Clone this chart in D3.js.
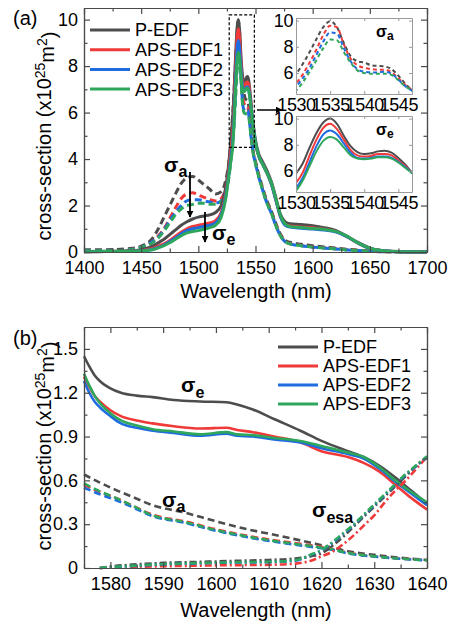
<!DOCTYPE html>
<html lang="en">
<head>
  <meta charset="utf-8">
  <title>Cross-section spectra</title>
  <script src="https://d3js.org/d3.v7.min.js"></script>
  <style>
    body { margin: 0; background: #fff; }
    text { font-family: "Liberation Sans", Arial, sans-serif; fill: #000; }
    .tick text { font-size: 18px; }
    .axis path, .axis line { stroke: #4a4a4a; stroke-width: 1.2; }
  </style>
</head>
<body>
<script>
// ---------- data ----------
var names = ["P-EDF", "APS-EDF1", "APS-EDF2", "APS-EDF3"];
var colors = ["#4d4d4d", "#f03a3a", "#1f6be0", "#2ea65c"];

// panel (a): 1400-1700 nm
var wlA = [1400,1420,1440,1450,1460,1465,1470,1475,1480,1485,1490,1495,1500,1505,1510,1515,1520,1524,1527,1529,
  1530,1531,1532,1533,1534,1535,1536,1537,1538,1539,1540,1541,1542,1543,1544,1545,1546,1547,1548,
  1550,1553,1556,1560,1564,1568,1572,1576,1580,1590,1600,1610,1620,1630,1640,1650,1660,1670,1680,1700];

var absP = [0.1,0.1,0.15,0.25,0.6, 1.0,1.5,2.0,2.5,2.95, 3.2,3.25,3.1,2.9,2.7, 2.5,2.6,3.1,4.0,5.2,
  5.9,6.7,7.6,8.6,9.5,9.95,9.5,8.3,7.3,6.9,6.8,6.6,6.55,6.5,6.3,5.8,5.2,4.7,4.3,
  3.9,3.3,2.8,2.2,1.75, 1.2,0.75,0.5,0.42,0.33, 0.27,0.22,0.17,0.12,0.08, 0.04,0.02,0.01,0,0];
var absR = [0.05,0.05,0.1,0.2,0.45, 0.7,1.0,1.45,1.9,2.3, 2.5,2.55,2.45,2.35,2.25, 2.2,2.3,2.8,3.6,4.6,
  5.2,5.9,6.8,7.8,8.9,9.6,9.5,8.2,7.1,6.6,6.4,6.3,6.25,6.25,6.05,5.6,5.1,4.7,4.3,
  3.85,3.25,2.75,2.15,1.7, 1.15,0.7,0.45,0.36,0.28, 0.22,0.18,0.14,0.1,0.06, 0.03,0.015,0.01,0,0];
var absB = [0.05,0.05,0.1,0.2,0.45, 0.65,0.95,1.35,1.7,2.0, 2.2,2.25,2.25,2.2,2.15, 2.1,2.2,2.7,3.4,4.4,
  4.95,5.6,6.4,7.4,8.4,9.1,9.0,7.9,6.9,6.3,6.1,6.05,6.05,6.1,5.95,5.5,5.0,4.65,4.25,
  3.8,3.2,2.7,2.1,1.65, 1.1,0.68,0.44,0.35,0.27, 0.21,0.17,0.13,0.09,0.06, 0.03,0.015,0.01,0,0];
var absG = [0.05,0.05,0.1,0.2,0.4, 0.6,0.9,1.25,1.6,1.85, 2.0,2.05,2.1,2.1,2.05, 2.05,2.15,2.6,3.3,4.2,
  4.65,5.3,6.1,7.0,7.9,8.55,8.5,7.6,6.8,6.2,6.0,5.95,5.95,5.95,5.85,5.45,5.0,4.65,4.25,
  3.8,3.2,2.7,2.1,1.65, 1.1,0.68,0.44,0.35,0.27, 0.21,0.17,0.13,0.09,0.06, 0.03,0.015,0.01,0,0];

var emP = [0.02,0.03,0.05,0.1,0.25, 0.4,0.55,0.75,0.95,1.15, 1.3,1.42,1.5,1.55,1.6, 1.7,2.0,2.8,4.0,5.1,
  5.8,6.6,7.8,8.9,9.7,10.0,9.6,8.7,7.9,7.45,7.3,7.35,7.5,7.55,7.4,7.0,6.5,5.9,5.5,
  4.8,4.2,3.9,3.5,3.0, 2.3,1.6,1.3,1.22,1.18, 1.13,1.05,0.93,0.68,0.4, 0.17,0.07,0.03,0.01,0];
var emR = [0.01,0.02,0.03,0.06,0.15, 0.25,0.35,0.5,0.68,0.85, 1.0,1.1,1.15,1.2,1.25, 1.35,1.7,2.5,3.7,4.6,
  5.1,5.9,7.2,8.4,9.3,9.6,9.2,8.4,7.6,7.2,7.1,7.15,7.3,7.3,7.2,6.8,6.4,5.85,5.4,
  4.7,4.1,3.8,3.4,2.9, 2.2,1.5,1.2,1.12,1.08, 1.04,0.98,0.89,0.66,0.37, 0.15,0.06,0.02,0.01,0];
var emB = [0.01,0.02,0.03,0.05,0.12, 0.2,0.3,0.45,0.6,0.78, 0.92,1.0,1.05,1.1,1.15, 1.25,1.6,2.4,3.5,4.3,
  4.7,5.5,6.7,7.9,8.8,9.1,8.8,8.1,7.4,7.0,6.95,7.0,7.1,7.1,7.0,6.7,6.3,5.85,5.4,
  4.7,4.1,3.8,3.4,2.9, 2.2,1.5,1.15,1.07,1.02, 0.99,0.95,0.87,0.66,0.37, 0.15,0.06,0.02,0.01,0];
var emG = [0.01,0.02,0.03,0.05,0.1, 0.18,0.27,0.4,0.55,0.7, 0.82,0.88,0.92,0.98,1.05, 1.15,1.5,2.3,3.4,4.1,
  4.5,5.3,6.4,7.5,8.3,8.6,8.4,7.8,7.2,6.95,6.9,6.95,7.05,7.05,6.95,6.65,6.25,5.85,5.4,
  4.7,4.1,3.8,3.4,2.95, 2.25,1.55,1.2,1.1,1.05, 1.01,0.97,0.89,0.68,0.38, 0.16,0.06,0.02,0.01,0];

// panel (b): 1575-1640 nm
var wlE = [1575,1576,1577,1578,1580,1582,1585,1588,1592,1597,1602,1604,1607,1611,1616,1620,1625,1628,1631,1634,1637,1640];
var seP = [1.45,1.38,1.32,1.28,1.23,1.2,1.18,1.17,1.15,1.14,1.135,1.12,1.085,1.02,0.94,0.87,0.8,0.76,0.7,0.62,0.53,0.44];
var seR = [1.31,1.24,1.18,1.14,1.08,1.04,1.01,0.99,0.97,0.955,0.96,0.945,0.93,0.9,0.86,0.8,0.76,0.72,0.66,0.57,0.48,0.4];
var seB = [1.28,1.2,1.14,1.1,1.04,0.99,0.96,0.94,0.925,0.905,0.92,0.905,0.9,0.88,0.86,0.82,0.78,0.75,0.68,0.59,0.51,0.43];
var seG = [1.33,1.25,1.18,1.13,1.06,1.01,0.975,0.95,0.935,0.915,0.93,0.915,0.91,0.89,0.87,0.835,0.79,0.76,0.69,0.6,0.52,0.45];

var wlAbs = [1575,1578,1581,1584,1588,1594,1600,1606,1612,1619,1622,1625,1630,1635,1640];
var saP = [0.64,0.585,0.535,0.49,0.43,0.38,0.32,0.265,0.22,0.165,0.14,0.115,0.09,0.07,0.055];
var saR = [0.57,0.52,0.48,0.43,0.365,0.32,0.265,0.22,0.185,0.15,0.13,0.105,0.08,0.065,0.055];
var saB = [0.55,0.505,0.465,0.42,0.355,0.31,0.255,0.21,0.175,0.14,0.125,0.1,0.078,0.063,0.052];
var saG = [0.58,0.525,0.48,0.43,0.36,0.315,0.26,0.215,0.18,0.145,0.128,0.103,0.08,0.064,0.053];

var wlEsa = [1578,1580,1585,1590,1595,1600,1605,1610,1615,1618,1620,1622,1624,1626,1628,1630,1632,1634,1636,1638,1640];
var esaP = [0,0.01,0.025,0.035,0.04,0.045,0.05,0.055,0.065,0.08,0.1,0.15,0.21,0.28,0.35,0.42,0.49,0.56,0.63,0.7,0.76];
var esaR = [0,0.003,0.008,0.012,0.015,0.018,0.02,0.022,0.03,0.05,0.08,0.11,0.16,0.22,0.29,0.36,0.45,0.53,0.6,0.68,0.76];
var esaB = [0,0.005,0.015,0.025,0.03,0.035,0.038,0.04,0.05,0.09,0.12,0.17,0.23,0.29,0.36,0.43,0.5,0.57,0.64,0.7,0.76];
var esaG = [0,0.006,0.017,0.027,0.032,0.037,0.04,0.042,0.053,0.092,0.123,0.175,0.235,0.295,0.365,0.435,0.505,0.575,0.645,0.705,0.765];

// ticks
var xTicksA = [1400,1450,1500,1550,1600,1650,1700];
var xMinorA = [1425,1475,1525,1575,1625,1675];
var yTicksA = [0,2,4,6,8,10];
var yMinorA = [1,3,5,7,9];
var xTicksIn = [1530,1535,1540,1545];
var yTicksIn = [6,8,10];
var xTicksB = [1580,1590,1600,1610,1620,1630,1640];
var xMinorB = [1575,1585,1595,1605,1615,1625,1635];
var yTicksB = [0,0.3,0.6,0.9,1.2,1.5];
var yMinorB = [0.15,0.45,0.75,1.05,1.35];

// ---------- canvas ----------
var width = 455, height = 627;
var svg = d3.select("body").append("svg").attr("width", width).attr("height", height);

svg.append("defs").append("marker")
  .attr("id", "arrow").attr("viewBox", "0 0 10 10").attr("refX", 9).attr("refY", 5)
  .attr("markerWidth", 7).attr("markerHeight", 7).attr("markerUnits", "userSpaceOnUse")
  .attr("orient", "auto")
  .append("path").attr("d", "M0,0 L10,5 L0,10 z").attr("fill", "#000");

function series(wl, vals) { return wl.map(function(w, i) { return [w, vals[i]]; }); }

function frame(g, x, y, xt, xm, yt, ym, fmt) {
  var x0 = x.range()[0], x1 = x.range()[1], y0 = y.range()[0], y1 = y.range()[1];
  g.append("g").attr("class", "axis").attr("transform", "translate(0," + y0 + ")")
    .call(d3.axisBottom(x).tickValues(xt).tickSizeInner(-6).tickSizeOuter(0).tickPadding(9).tickFormat(d3.format("d")));
  g.append("g").attr("class", "axis").attr("transform", "translate(0," + y0 + ")")
    .call(d3.axisBottom(x).tickValues(xm).tickSizeInner(-3.5).tickSizeOuter(0).tickFormat(""));
  g.append("g").attr("class", "axis").attr("transform", "translate(0," + y1 + ")")
    .call(d3.axisTop(x).tickValues(xt).tickSizeInner(-6).tickSizeOuter(0).tickFormat(""));
  g.append("g").attr("class", "axis").attr("transform", "translate(0," + y1 + ")")
    .call(d3.axisTop(x).tickValues(xm).tickSizeInner(-3.5).tickSizeOuter(0).tickFormat(""));
  g.append("g").attr("class", "axis").attr("transform", "translate(" + x0 + ",0)")
    .call(d3.axisLeft(y).tickValues(yt).tickSizeInner(-6).tickSizeOuter(0).tickPadding(6).tickFormat(fmt));
  g.append("g").attr("class", "axis").attr("transform", "translate(" + x0 + ",0)")
    .call(d3.axisLeft(y).tickValues(ym).tickSizeInner(-3.5).tickSizeOuter(0).tickFormat(""));
  g.append("g").attr("class", "axis").attr("transform", "translate(" + x1 + ",0)")
    .call(d3.axisRight(y).tickValues(yt).tickSizeInner(-6).tickSizeOuter(0).tickFormat(""));
  g.append("g").attr("class", "axis").attr("transform", "translate(" + x1 + ",0)")
    .call(d3.axisRight(y).tickValues(ym).tickSizeInner(-3.5).tickSizeOuter(0).tickFormat(""));
}

function yTitle(cx, cy) {
  var t = svg.append("text").attr("transform", "translate(" + cx + "," + cy + ") rotate(-90)")
    .attr("text-anchor", "middle").attr("font-size", 20);
  t.append("tspan").text("cross-section (x10");
  t.append("tspan").attr("dy", "-0.45em").attr("font-size", 14).text("25");
  t.append("tspan").attr("dy", "0.45em").text("m");
  t.append("tspan").attr("dy", "-0.45em").attr("font-size", 14).text("2");
  t.append("tspan").attr("dy", "0.45em").text(")");
}

function sigma(x, y, sub, size, subSize, dy) {
  var t = svg.append("text").attr("x", x).attr("y", y).attr("font-size", size).attr("font-weight", "bold");
  t.append("tspan").text("σ");
  t.append("tspan").attr("dy", dy).attr("font-size", subSize).text(sub);
}

function legend(x, y0, step) {
  names.forEach(function(n, i) {
    var yy = y0 + i * step;
    svg.append("line").attr("x1", x).attr("x2", x + 40).attr("y1", yy).attr("y2", yy)
      .attr("stroke", colors[i]).attr("stroke-width", 3);
    svg.append("text").attr("x", x + 45).attr("y", yy).attr("dy", "0.36em")
      .attr("font-size", 18).text(n);
  });
}

// ---------- panel (a) ----------
var xA = d3.scaleLinear().domain([1400, 1700]).range([84, 427]);
var yA = d3.scaleLinear().domain([0, 10.5]).range([252, 8]);
var lineA = d3.line().x(function(d) { return xA(d[0]); }).y(function(d) { return yA(d[1]); }).curve(d3.curveMonotoneX);

var absA = [absP, absR, absB, absG];
var emA = [emP, emR, emB, emG];

var gA = svg.append("g");
absA.forEach(function(v, i) {
  gA.append("path").attr("d", lineA(series(wlA, v))).attr("fill", "none")
    .attr("stroke", colors[i]).attr("stroke-width", 3).attr("stroke-dasharray", "7,4");
});
emA.forEach(function(v, i) {
  gA.append("path").attr("d", lineA(series(wlA, v))).attr("fill", "none")
    .attr("stroke", colors[i]).attr("stroke-width", 3);
});
frame(svg.append("g"), xA, yA, xTicksA, xMinorA, yTicksA, yMinorA, d3.format("d"));

// zoom box and arrow
svg.append("rect").attr("x", xA(1527)).attr("y", yA(10.2)).attr("width", xA(1549) - xA(1527))
  .attr("height", yA(4.5) - yA(10.2)).attr("fill", "none").attr("stroke", "#000")
  .attr("stroke-width", 1.2).attr("stroke-dasharray", "3,2");
svg.append("line").attr("x1", 257).attr("y1", 110).attr("x2", 282).attr("y2", 110)
  .attr("stroke", "#000").attr("stroke-width", 1.5).attr("marker-end", "url(#arrow)");

// insets
function inset(top, data, dashed, label) {
  var xi = d3.scaleLinear().domain([1530, 1547]).range([296, 412]);
  var yi = d3.scaleLinear().domain([4.4, 10.2]).range([top + 76, top]);
  var li = d3.line().x(function(d) { return xi(d[0]); }).y(function(d) { return yi(d[1]); }).curve(d3.curveMonotoneX);
  var id = "clip" + top;
  svg.append("clipPath").attr("id", id).append("rect").attr("x", 296).attr("y", top).attr("width", 116).attr("height", 76);
  svg.append("rect").attr("x", 296).attr("y", top).attr("width", 116).attr("height", 76).attr("fill", "#fff");
  var g = svg.append("g").attr("clip-path", "url(#" + id + ")");
  data.forEach(function(v, i) {
    g.append("path").attr("d", li(series(wlA, v))).attr("fill", "none").attr("stroke", colors[i])
      .attr("stroke-width", 2).attr("stroke-dasharray", dashed ? "4,3" : null);
  });
  var ax = svg.append("g").attr("class", "inset");
  ax.append("g").attr("transform", "translate(0," + (top + 76) + ")")
    .call(d3.axisBottom(xi).tickValues(xTicksIn).tickSizeInner(-3).tickSizeOuter(0).tickPadding(4).tickFormat(d3.format("d")));
  ax.append("g").attr("transform", "translate(0," + top + ")")
    .call(d3.axisTop(xi).tickValues(xTicksIn).tickSizeInner(-3).tickSizeOuter(0).tickFormat(""));
  ax.append("g").attr("transform", "translate(296,0)")
    .call(d3.axisLeft(yi).tickValues(yTicksIn).tickSizeInner(-3).tickSizeOuter(0).tickPadding(3).tickFormat(d3.format("d")));
  ax.append("g").attr("transform", "translate(412,0)")
    .call(d3.axisRight(yi).tickValues(yTicksIn).tickSizeInner(-3).tickSizeOuter(0).tickFormat(""));
  ax.selectAll("path, line").attr("stroke", "#9a9a9a");
  ax.selectAll("text").attr("font-size", 13).attr("letter-spacing", "-0.4");
  sigma(376, top + 19, label, 16, 12, 3);
}
inset(18, absA, true, "a");
inset(116, emA, false, "e");

legend(90, 30, 19.7);
sigma(164, 172, "a", 21, 16, 5);
sigma(212, 240, "e", 21, 16, 5);
svg.append("line").attr("x1", 190).attr("y1", 172).attr("x2", 190).attr("y2", 217)
  .attr("stroke", "#000").attr("stroke-width", 1.8).attr("marker-end", "url(#arrow)");
svg.append("line").attr("x1", 205).attr("y1", 212).attr("x2", 205).attr("y2", 242)
  .attr("stroke", "#000").attr("stroke-width", 1.8).attr("marker-end", "url(#arrow)");

svg.append("text").attr("x", 13).attr("y", 25).attr("font-size", 20).text("(a)");
svg.append("text").attr("x", 256).attr("y", 298).attr("text-anchor", "middle").attr("font-size", 20).text("Wavelength (nm)");
yTitle(51, 136);

// ---------- panel (b) ----------
var xB = d3.scaleLinear().domain([1575, 1640]).range([84, 427]);
var yB = d3.scaleLinear().domain([0, 1.65]).range([568, 327]);
var lineB = d3.line().x(function(d) { return xB(d[0]); }).y(function(d) { return yB(d[1]); }).curve(d3.curveMonotoneX);

var gB = svg.append("g");
[seP, seR, seB, seG].forEach(function(v, i) {
  gB.append("path").attr("d", lineB(series(wlE, v))).attr("fill", "none")
    .attr("stroke", colors[i]).attr("stroke-width", 2.6);
});
[saP, saR, saB, saG].forEach(function(v, i) {
  gB.append("path").attr("d", lineB(series(wlAbs, v))).attr("fill", "none")
    .attr("stroke", colors[i]).attr("stroke-width", 2.6).attr("stroke-dasharray", "7,4");
});
[esaP, esaR, esaB, esaG].forEach(function(v, i) {
  gB.append("path").attr("d", lineB(series(wlEsa, v))).attr("fill", "none")
    .attr("stroke", colors[i]).attr("stroke-width", 2.6).attr("stroke-dasharray", "7,3,2,3");
});
frame(svg.append("g"), xB, yB, xTicksB, xMinorB, yTicksB, yMinorB, function(d) { return d === 0 ? "0" : d.toFixed(1); });

legend(278, 347, 19);
sigma(181, 392, "e", 21, 16, 6);
sigma(162, 507, "a", 21, 16, 5);
sigma(312, 517, "esa", 21, 16, 6);

svg.append("text").attr("x", 13).attr("y", 345).attr("font-size", 20).text("(b)");
svg.append("text").attr("x", 256).attr("y", 617).attr("text-anchor", "middle").attr("font-size", 20).text("Wavelength (nm)");
yTitle(51, 446);
</script>
</body>
</html>
